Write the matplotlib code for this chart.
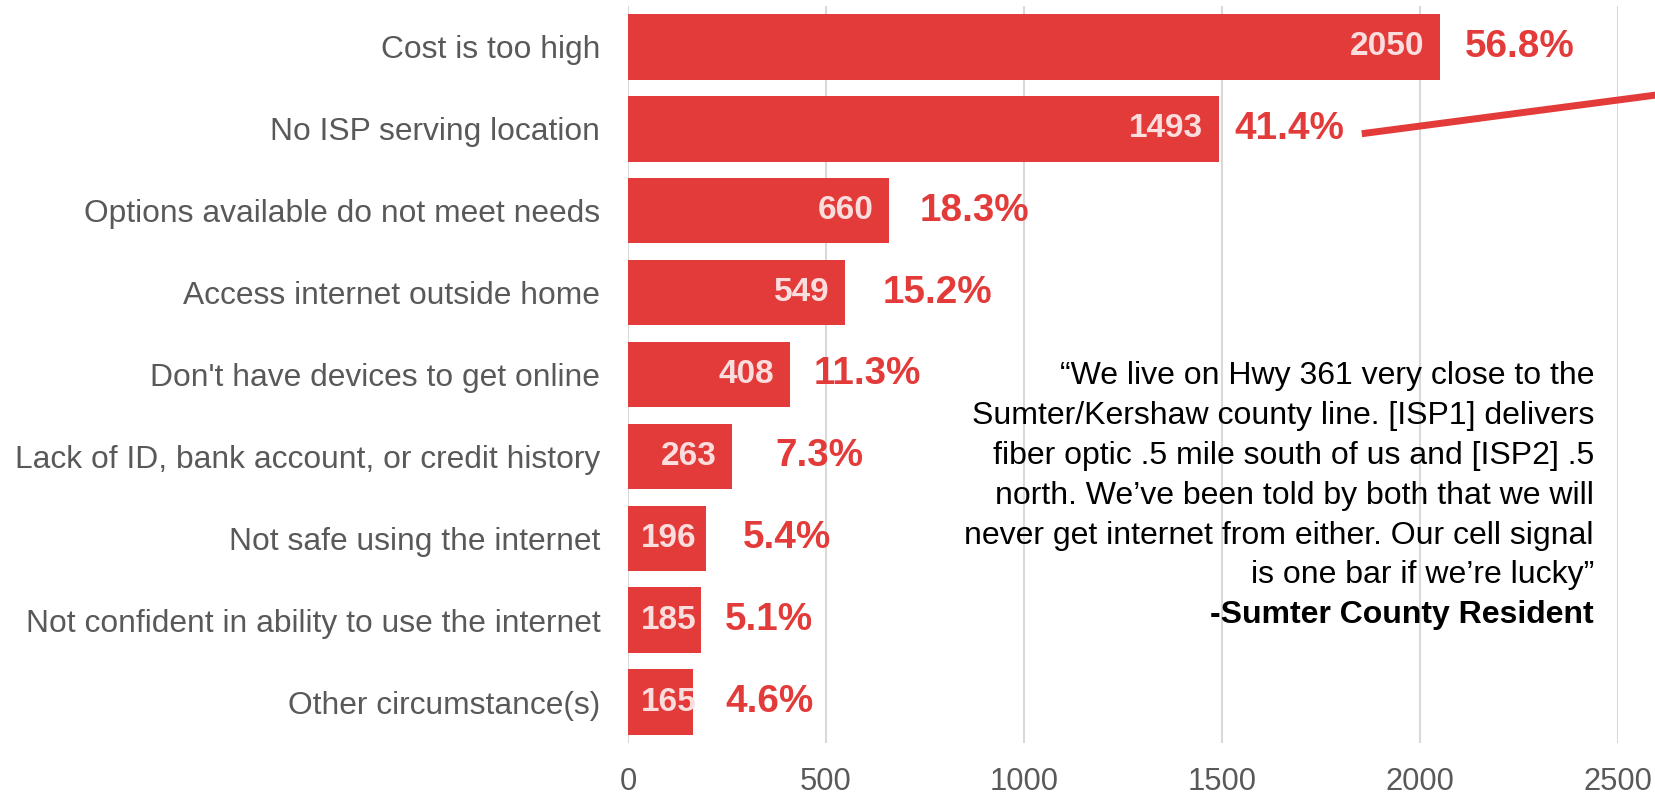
import matplotlib.pyplot as plt

plt.rcParams['font.family'] = ['Liberation Sans', 'DejaVu Sans']

# data
categories = [
    "Cost is too high",
    "No ISP serving location",
    "Options available do not meet needs",
    "Access internet outside home",
    "Don't have devices to get online",
    "Lack of ID, bank account, or credit history",
    "Not safe using the internet",
    "Not confident in ability to use the internet",
    "Other circumstance(s)",
]
counts = [2050, 1493, 660, 549, 408, 263, 196, 185, 165]
percents = ["56.8%", "41.4%", "18.3%", "15.2%", "11.3%", "7.3%", "5.4%", "5.1%", "4.6%"]
x_ticks = [0, 500, 1000, 1500, 2000, 2500]

quote_lines = [
    "\u201cWe live on Hwy 361 very close to the",
    "Sumter/Kershaw county line. [ISP1] delivers",
    "fiber optic .5 mile south of us and [ISP2] .5",
    "north. We\u2019ve been told by both that we will",
    "never get internet from either. Our cell signal",
    "is one bar if we\u2019re lucky\u201d",
]
quote_author = "-Sumter County Resident"

# layout tweaks (gap in points between bar end and percent label)
pct_gap = [18, 11, 22, 27, 17, 31, 27, 17, 23]

RED = "#E23B3A"
GREY = "#595959"

fig = plt.figure(figsize=(16.55, 7.96), dpi=100)
ax = fig.add_axes([0.3795, 0.0666, 0.9776 - 0.3795, 0.9925 - 0.0666])

y = list(range(len(categories)))
ax.barh(y, counts, height=0.8, color=RED, zorder=2)

ax.set_xlim(0, 2500)
ax.set_ylim(8.5, -0.5)
ax.set_xticks(x_ticks)
ax.set_yticks(y)
ax.set_yticklabels(categories)
ax.tick_params(axis='y', length=0, pad=20, labelsize=22.9, labelcolor=GREY)
ax.tick_params(axis='x', length=0, pad=17, labelsize=22.2, labelcolor=GREY)
for s in ax.spines.values():
    s.set_visible(False)
ax.grid(axis='x', color="#D9D9D9", linewidth=1.5, zorder=0)
ax.set_axisbelow(True)

# value labels inside bars and percent labels outside
for i, (v, p) in enumerate(zip(counts, percents)):
    ax.text(max(v - 40, 173), i, str(v), ha='right', va='center',
            fontsize=24, fontweight='bold', color="#FBDDDD", zorder=3)
    ax.annotate(p, (v, i), xytext=(pct_gap[i], 0), textcoords='offset points',
                ha='left', va='center', fontsize=27.8, fontweight='bold', color=RED)

# pointer line off to the right
ax.plot([1853, 2750], [1.06, 0.49], color=RED, linewidth=5, clip_on=False,
        solid_capstyle='butt', zorder=4)

# quote
W, H = 1655, 796
x_right = 1594 / W
y0 = 376
dy = 39.9
for k, line in enumerate(quote_lines):
    fig.text(x_right, 1 - (y0 + k * dy) / H, line, ha='right', va='center',
             fontsize=23, color="black")
fig.text(x_right, 1 - (y0 + len(quote_lines) * dy) / H, quote_author, ha='right',
         va='center', fontsize=23, fontweight='bold', color="black")

fig.savefig("out.png", dpi=100, facecolor='white')
